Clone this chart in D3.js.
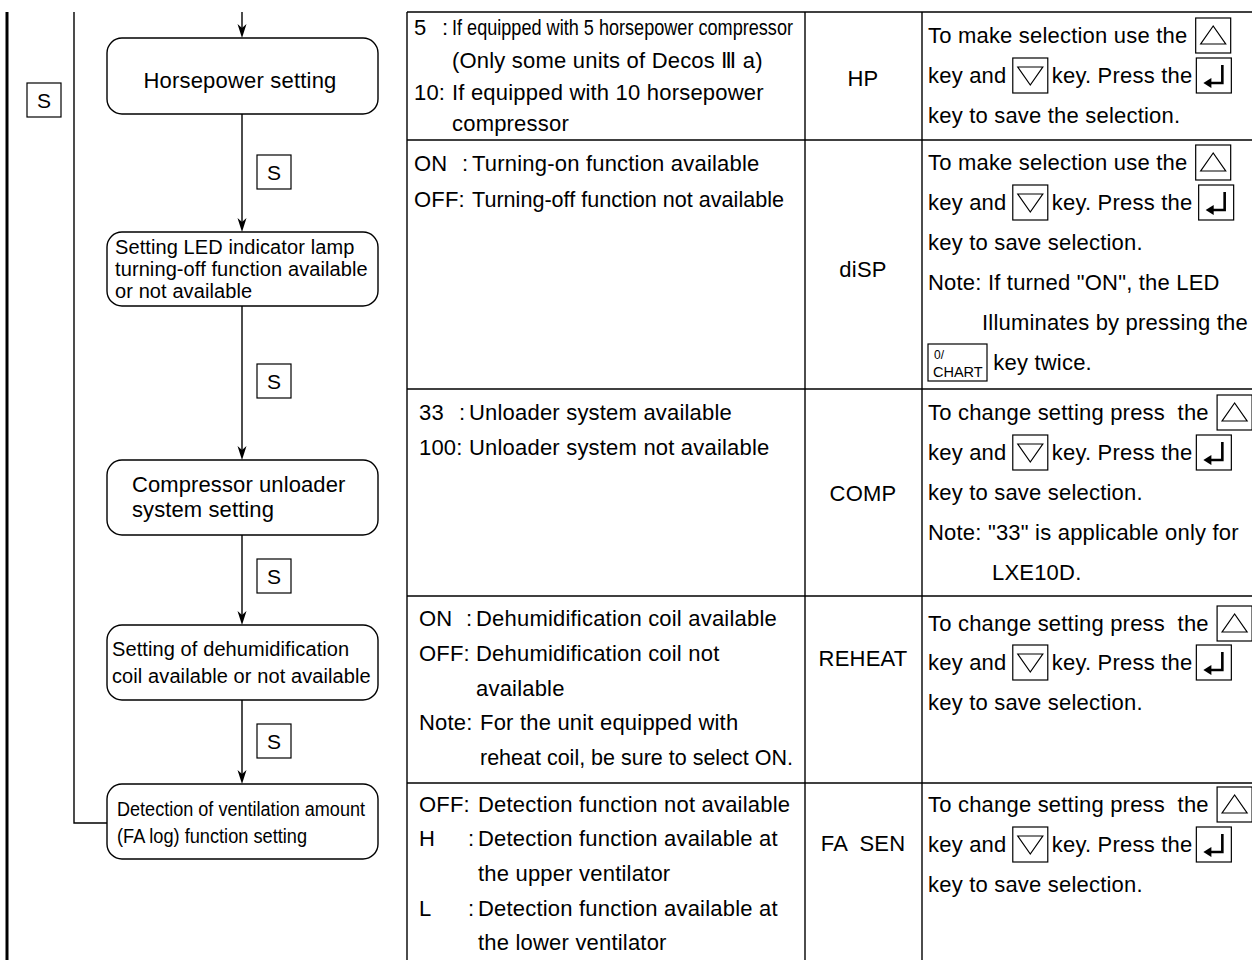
<!DOCTYPE html>
<html><head><meta charset="utf-8">
<script src="https://cdn.jsdelivr.net/npm/d3@7/dist/d3.min.js"></script>
<style>
html,body{margin:0;padding:0;background:#fff}
svg{display:block}
text{font-family:"Liberation Sans",Arial,Helvetica,sans-serif;fill:#000;white-space:pre}
</style>
</head><body>
<svg id="c" width="1252" height="960"></svg>
<script>
// ---------- DATA ----------
const stepLabels = [
  ["Horsepower setting"],
  ["Setting LED indicator lamp", "turning-off function available", "or not available"],
  ["Compressor unloader", "system setting"],
  ["Setting of dehumidification", "coil available or not available"],
  ["Detection of ventilation amount", "(FA log) function setting"]
];
const keyName = "S";
const codes = ["HP", "diSP", "COMP", "REHEAT", "FA  SEN"];
// option lines: [label, body]; label "" = continuation line
const options = [
  [["5", "If equipped with 5 horsepower compressor"], ["", "(Only some units of Decos \u2162 a)"], ["10:", "If equipped with 10 horsepower"], ["", "compressor"]],
  [["ON", "Turning-on function available"], ["OFF:", "Turning-off function not available"]],
  [["33", "Unloader system available"], ["100:", "Unloader system not available"]],
  [["ON", "Dehumidification coil available"], ["OFF:", "Dehumidification coil not"], ["", "available"], ["Note:", "For the unit equipped with"], ["", "reheat coil, be sure to select ON."]],
  [["OFF:", "Detection function not available"], ["H", "Detection function available at"], ["", "the upper ventilator"], ["L", "Detection function available at"], ["", "the lower ventilator"]]
];
const instructions = [
  ["To make selection use the {up}", "key and {down}key. Press the{enter}", "key to save the selection."],
  ["To make selection use the {up}", "key and {down}key. Press the {enter}", "key to save selection.", "Note: If turned \"ON\", the LED", "Illuminates by pressing the", "{chart} key twice."],
  ["To change setting press  the {up}", "key and {down}key. Press the{enter}", "key to save selection.", "Note: \"33\" is applicable only for", "LXE10D."],
  ["To change setting press  the {up}", "key and {down}key. Press the{enter}", "key to save selection."],
  ["To change setting press  the {up}", "key and {down}key. Press the{enter}", "key to save selection."]
];
const chartKey = ["0/", "CHART"];

// ---------- LAYOUT ----------
const FS = 22, LS = 0.2;
const flow = {
  cx: 242, x0: 107, x1: 378, r: 15,
  boxY: [[38, 114], [232, 306], [460, 535], [625, 700], [784, 859]],
  sBoxY: [155, 364, 559, 724],
  fs: [22, 20, 22, 20, 20],
  textX: [null, 115, 132, 112, 117],
  base: [[88], [254, 276, 298], [492, 517], [656, 683], [816, 843]],
  fit: [null, null, null, null, [248, 190]]
};
const table = {
  colX: [407, 805, 922, 1262],
  rowY: [12, 140, 389, 596, 783, 980],
  codeX: 863, codeBase: [86, 277, 501, 666, 851],
  optX: [414, 414, 419, 419, 419],
  bodyX: [452, 472, 469, 476, 478],
  bodyShift: {"3-3": 4, "3-4": 4},
  optBase: [[35, 68, 100, 131], [171, 207], [420, 455], [626, 661, 696, 730, 765], [812, 846, 881, 916, 950]],
  insX: 928,
  insIndent: {"1-4": 982, "2-4": 992},
  insBase: [[43, 83, 123], [170, 210, 250, 290, 330, 370], [420, 460, 500, 540, 580], [631, 670, 710], [812, 852, 892]],
  fit: {"0-0": 341, "1-1": 312, "3-4": 313}
};

const svg = d3.select("#c");
const ink = "#000";

// ---------- FLOW ----------
const g = svg.append("g");
g.append("line").attr("x1", 7).attr("x2", 7).attr("y1", 12).attr("y2", 960).attr("stroke", ink).attr("stroke-width", 3);
g.append("path").attr("d", d3.line()([[74, 12], [74, 823], [flow.x0, 823]])).attr("fill", "none").attr("stroke", ink).attr("stroke-width", 1.4);

function sBox(x, y) {
  g.append("rect").attr("x", x).attr("y", y).attr("width", 34).attr("height", 34).attr("fill", "#fff").attr("stroke", ink).attr("stroke-width", 1.2);
  g.append("text").attr("x", x + 17).attr("y", y + 25).attr("text-anchor", "middle").attr("font-size", 21).text(keyName);
}
sBox(27, 83);

const arrowSegs = [[12, flow.boxY[0][0]]].concat(flow.boxY.slice(0, -1).map((b, i) => [b[1], flow.boxY[i + 1][0]]));
arrowSegs.forEach(([a, b]) => {
  g.append("line").attr("x1", flow.cx).attr("x2", flow.cx).attr("y1", a).attr("y2", b - 4).attr("stroke", ink).attr("stroke-width", 1.4);
  g.append("path").attr("d", `M${flow.cx},${b} L${flow.cx - 4.5},${b - 14} L${flow.cx},${b - 10} L${flow.cx + 4.5},${b - 14} Z`).attr("fill", ink);
});
flow.sBoxY.forEach(y => sBox(257, y));

g.selectAll("rect.step").data(stepLabels).join("rect").attr("class", "step")
  .attr("x", flow.x0).attr("width", flow.x1 - flow.x0)
  .attr("y", (d, i) => flow.boxY[i][0]).attr("height", (d, i) => flow.boxY[i][1] - flow.boxY[i][0])
  .attr("rx", flow.r).attr("fill", "#fff").attr("stroke", ink).attr("stroke-width", 1.4);

stepLabels.forEach((lines, i) => {
  lines.forEach((t, j) => {
    const tx = g.append("text").attr("font-size", flow.fs[i]).attr("y", flow.base[i][j]).text(t);
    if (flow.textX[i] == null) tx.attr("x", flow.cx - 2).attr("text-anchor", "middle").style("letter-spacing", "0.2px");
    else tx.attr("x", flow.textX[i]).style("letter-spacing", "0.1px");
    if (flow.fit[i]) tx.attr("textLength", flow.fit[i][j]).attr("lengthAdjust", "spacingAndGlyphs").style("letter-spacing", null);
  });
});

// ---------- TABLE ----------
const t = svg.append("g");
t.selectAll("line.v").data(table.colX.slice(0, 3)).join("line").attr("class", "v")
  .attr("x1", d => d).attr("x2", d => d).attr("y1", table.rowY[0]).attr("y2", 960)
  .attr("stroke", ink).attr("stroke-width", 1.4);
t.selectAll("line.h").data(table.rowY.slice(0, 5)).join("line").attr("class", "h")
  .attr("x1", table.colX[0]).attr("x2", 1252).attr("y1", d => d).attr("y2", d => d)
  .attr("stroke", ink).attr("stroke-width", 1.4);

t.selectAll("text.code").data(codes).join("text").attr("class", "code")
  .attr("x", table.codeX).attr("y", (d, i) => table.codeBase[i]).attr("text-anchor", "middle")
  .attr("font-size", FS).style("letter-spacing", LS + "px").text(d => d);

options.forEach((rows, i) => {
  rows.forEach(([lab, body], j) => {
    const y = table.optBase[i][j];
    const bx = table.bodyX[i];
    if (lab) {
      t.append("text").attr("x", table.optX[i]).attr("y", y).attr("font-size", FS).style("letter-spacing", LS + "px").text(lab);
      if (!lab.endsWith(":")) t.append("text").attr("x", bx - 10).attr("y", y).attr("font-size", FS).text(":");
    }
    const key = i + "-" + j;
    const tx = t.append("text").attr("x", bx + (table.bodyShift[key] || 0)).attr("y", y).attr("font-size", FS).style("letter-spacing", LS + "px").text(body);
    const fw = table.fit[key];
    if (fw) tx.attr("textLength", fw).attr("lengthAdjust", "spacingAndGlyphs").style("letter-spacing", null);
  });
});

function keyBox(x, cy, kind) {
  const w = kind === "chart" ? 59 : 35, h = kind === "chart" ? 37 : 35;
  const y = cy - h / 2;
  const k = t.append("g");
  k.append("rect").attr("x", x).attr("y", y).attr("width", w).attr("height", h).attr("fill", "#fff").attr("stroke", ink).attr("stroke-width", 1.2);
  const cx = x + w / 2;
  if (kind === "up") {
    k.append("path").attr("d", `M${cx},${y + 8} L${cx - 12.5},${y + h - 9} L${cx + 12.5},${y + h - 9} Z`).attr("fill", "none").attr("stroke", ink).attr("stroke-width", 1.2);
  } else if (kind === "down") {
    k.append("path").attr("d", `M${cx},${y + h - 8} L${cx - 12.5},${y + 9} L${cx + 12.5},${y + 9} Z`).attr("fill", "none").attr("stroke", ink).attr("stroke-width", 1.2);
  } else if (kind === "enter") {
    const rx = x + w - 9, by = y + h - 10;
    k.append("path").attr("d", `M${rx},${y + 7} L${rx},${by} L${x + 13},${by}`).attr("fill", "none").attr("stroke", ink).attr("stroke-width", 2.6);
    k.append("path").attr("d", `M${x + 7},${by} L${x + 15},${by - 5} L${x + 15},${by + 5} Z`).attr("fill", ink);
  } else if (kind === "chart") {
    k.append("text").attr("x", x + 6).attr("y", y + 15).attr("font-size", 12).text(chartKey[0]);
    k.append("text").attr("x", x + 5).attr("y", y + h - 4).attr("font-size", 14.5).text(chartKey[1]);
  }
  return w;
}
instructions.forEach((rows, i) => {
  rows.forEach((line, j) => {
    const base = table.insBase[i][j];
    let x = table.insIndent[i + "-" + j] || table.insX;
    const parts = line.split(/(\{\w+\})/).filter(p => p !== "");
    parts.forEach((p, pi) => {
      const m = p.match(/^\{(\w+)\}$/);
      if (m) {
        if (pi > 0) x += (parts[pi - 1].endsWith(" ") && m[1] === "up") ? 2 : (parts[pi - 1].endsWith(" ") ? 0 : 4);
        x += keyBox(x, base - 7.5, m[1]);
        x += (pi < parts.length - 1 && !parts[pi + 1].startsWith(" ")) ? 4 : 0;
      } else {
        const tx = t.append("text").attr("x", x).attr("y", base).attr("font-size", FS).style("letter-spacing", LS + "px").text(p);
        x += tx.node().getComputedTextLength();
      }
    });
  });
});
</script>
</body></html>
